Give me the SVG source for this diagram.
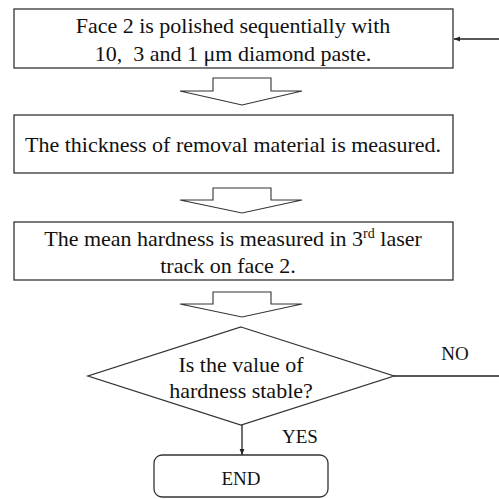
<svg xmlns="http://www.w3.org/2000/svg" width="499" height="499" viewBox="0 0 499 499">
<defs>
<marker id="ah" viewBox="0 0 10 10" refX="10" refY="5" markerWidth="6" markerHeight="6" orient="auto" markerUnits="userSpaceOnUse">
<path d="M0,1 L10,5 L0,9 z" fill="#222"/>
</marker>
<style>
.box{fill:#fff;stroke:#333;stroke-width:1.3}
.blk{fill:#fff;stroke:#333;stroke-width:1.1}
.t{font-family:"Liberation Serif","Times New Roman",serif;font-size:22px;fill:#111;text-anchor:middle}
.l{font-family:"Liberation Serif","Times New Roman",serif;font-size:19px;fill:#111;text-anchor:middle}
.c{fill:none;stroke:#222;stroke-width:1.3}
</style>
</defs>
<rect width="499" height="499" fill="#fff"/>
<g id="step1">
<rect class="box" x="14" y="9" width="439" height="59"/>
<text class="t" x="233" y="33">Face 2 is polished sequentially with</text>
<text class="t" x="233" y="61" xml:space="preserve">10,  3 and 1 μm diamond paste.</text>
</g>
<g id="arrow1"><path class="blk" d="M213,78 H271 V91 H302 L242,105 L180,91 H213 Z"/></g>
<g id="step2">
<rect class="box" x="14" y="115" width="439" height="58"/>
<text class="t" x="233" y="152">The thickness of removal material is measured.</text>
</g>
<g id="arrow2"><path class="blk" d="M213,188 H271 V200 H302 L242,213 L180,200 H213 Z"/></g>
<g id="step3">
<rect class="box" x="14" y="222" width="439" height="58"/>
<text class="t" x="233" y="246">The mean hardness is measured in 3<tspan font-size="14" dy="-8">rd</tspan><tspan dy="8"> laser</tspan></text>
<text class="t" x="228" y="273">track on face 2.</text>
</g>
<g id="arrow3"><path class="blk" d="M213,292 H271 V304 H302 L242,317 L180,304 H213 Z"/></g>
<g id="decision">
<path class="box" d="M241,327 L394,376 L241,425 L88,376 Z"/>
<text class="t" x="241" y="372">Is the value of</text>
<text class="t" x="241" y="398">hardness stable?</text>
</g>
<g id="end">
<rect class="box" x="154" y="455" width="174" height="42" rx="8"/>
<text class="l" x="241" y="485">END</text>
</g>
<g id="connectors">
<line class="c" x1="499" y1="39" x2="454" y2="39" marker-end="url(#ah)"/>
<line class="c" x1="394" y1="376" x2="499" y2="376"/>
<line class="c" x1="242" y1="425" x2="242" y2="455" marker-end="url(#ah)"/>
<text class="l" x="455" y="360">NO</text>
<text class="l" x="300" y="443">YES</text>
</g>
</svg>
